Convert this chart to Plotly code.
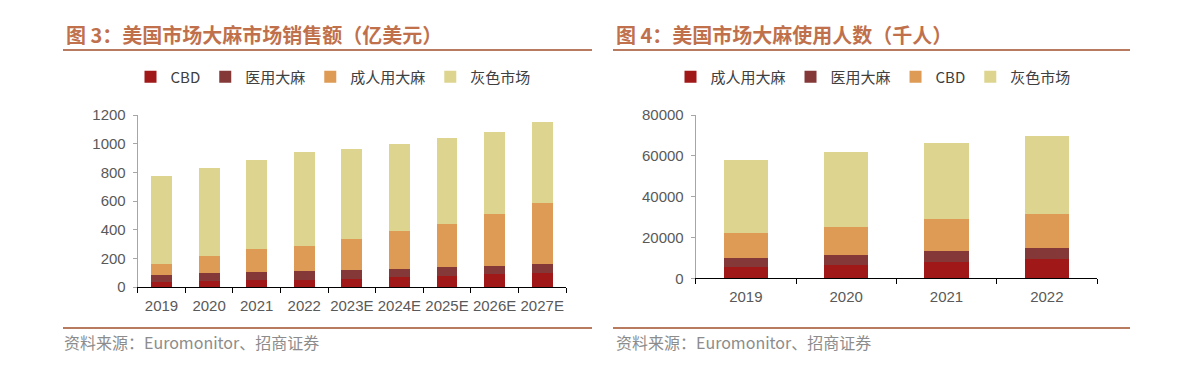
import plotly.graph_objects as go

W, H = 1191, 378

# ---- Chart 1: 美国市场大麻市场销售额（亿美元）
years1 = ["2019", "2020", "2021", "2022", "2023E", "2024E", "2025E", "2026E", "2027E"]
cbd1 = [35, 44, 49, 51, 58, 68, 77, 91, 100]
medical1 = [51, 56, 56, 61, 59, 58, 61, 56, 61]
adult1 = [77, 114, 161, 175, 216, 266, 305, 361, 426]
gray1 = [613, 618, 620, 652, 627, 608, 594, 576, 562]
yticks1 = [0, 200, 400, 600, 800, 1000, 1200]

# ---- Chart 2: 美国市场大麻使用人数（千人）
years2 = ["2019", "2020", "2021", "2022"]
adult2 = [5550, 6700, 7850, 9450]
medical2 = [4400, 4750, 5400, 5550]
cbd2 = [12100, 13700, 15850, 16650]
gray2 = [35750, 36750, 37400, 38200]
yticks2 = [0, 20000, 40000, 60000, 80000]

C_RED = "#A01818"
C_BROWN = "#843838"
C_ORANGE = "#DE9B55"
C_YELLOW = "#DDD48F"
TITLE_C = "#C0714C"
LINE_C = "#B87B60"

def px(x):
    return x / W

def py(y):
    return 1 - y / H

fig = go.Figure()

for name, vals, col in [("CBD", cbd1, C_RED), ("医用大麻", medical1, C_BROWN),
                        ("成人用大麻", adult1, C_ORANGE), ("灰色市场", gray1, C_YELLOW)]:
    fig.add_trace(go.Bar(x=years1, y=vals, name=name, marker=dict(color=col, line=dict(width=0)),
                         xaxis="x", yaxis="y", legend="legend"))

for name, vals, col in [("成人用大麻", adult2, C_RED), ("医用大麻", medical2, C_BROWN),
                        ("CBD", cbd2, C_ORANGE), ("灰色市场", gray2, C_YELLOW)]:
    fig.add_trace(go.Bar(x=years2, y=vals, name=name, marker=dict(color=col, line=dict(width=0)),
                         xaxis="x2", yaxis="y2", legend="legend2"))

tickfont = dict(family="Liberation Sans, Arial, sans-serif", size=15, color="#595959")
xcommon = dict(showline=True, linecolor="#000000", linewidth=1, ticks="outside", ticklen=5,
               tickcolor="#000000", tickson="boundaries", tickfont=tickfont, showgrid=False,
               zeroline=False, fixedrange=True, tickangle=0, automargin=False,
               ticklabelstandoff=5)
ycommon = dict(showline=True, linecolor="#A6A6A6", linewidth=1, ticks="outside", ticklen=4,
               tickcolor="#A6A6A6", tickfont=tickfont, showgrid=False, zeroline=False,
               fixedrange=True, tickformat="d", automargin=False, ticklabelstandoff=4)

legfont = dict(family="Noto Sans CJK SC, sans-serif", size=15, color="#404040")

fig.update_layout(
    width=W, height=H, autosize=False,
    margin=dict(l=0, r=0, t=0, b=0, pad=0),
    paper_bgcolor="white", plot_bgcolor="white",
    barmode="stack", bargap=0.56,
    font=dict(family="Noto Sans CJK SC, sans-serif"),
    xaxis=dict(domain=[px(137.7), px(566)], **xcommon),
    yaxis=dict(domain=[py(287), py(115)], range=[0, 1200], tickvals=yticks1, **ycommon),
    xaxis2=dict(domain=[px(695.7), px(1097)], anchor="y2", **xcommon),
    yaxis2=dict(domain=[py(278.3), py(115)], range=[0, 80000], tickvals=yticks2,
                anchor="x2", **ycommon),
    legend=dict(orientation="h", x=px(333), xanchor="center", y=py(77), yanchor="middle",
                font=legfont, itemwidth=30, traceorder="normal", bgcolor="rgba(0,0,0,0)"),
    legend2=dict(orientation="h", x=px(873), xanchor="center", y=py(77), yanchor="middle",
                 font=legfont, itemwidth=30, traceorder="normal", bgcolor="rgba(0,0,0,0)"),
)

# titles
titlefont = dict(family="Noto Sans CJK SC, sans-serif", size=20, color=TITLE_C)
fig.add_annotation(text="<b>图 3：美国市场大麻市场销售额（亿美元）</b>", x=px(64), y=py(35),
                   xref="paper", yref="paper", xanchor="left", yanchor="middle",
                   showarrow=False, font=titlefont)
fig.add_annotation(text="<b>图 4：美国市场大麻使用人数（千人）</b>", x=px(614), y=py(35),
                   xref="paper", yref="paper", xanchor="left", yanchor="middle",
                   showarrow=False, font=titlefont)

# source notes
srcfont = dict(family="Noto Sans CJK SC, sans-serif", size=16, color="#8C8C8C")
for x0 in (62, 614):
    fig.add_annotation(text="资料来源：Euromonitor、招商证券", x=px(x0), y=py(342),
                       xref="paper", yref="paper", xanchor="left", yanchor="middle",
                       showarrow=False, font=srcfont)

# separator lines
for (x0, x1) in ((63, 592), (613, 1130)):
    for yy in (50, 328):
        fig.add_shape(type="line", xref="paper", yref="paper", x0=px(x0), x1=px(x1),
                      y0=py(yy), y1=py(yy), line=dict(color=LINE_C, width=2))

fig.write_html("out.html", config={"displayModeBar": False},
               post_script="document.body.style.margin='0';document.body.style.overflow='hidden';")
